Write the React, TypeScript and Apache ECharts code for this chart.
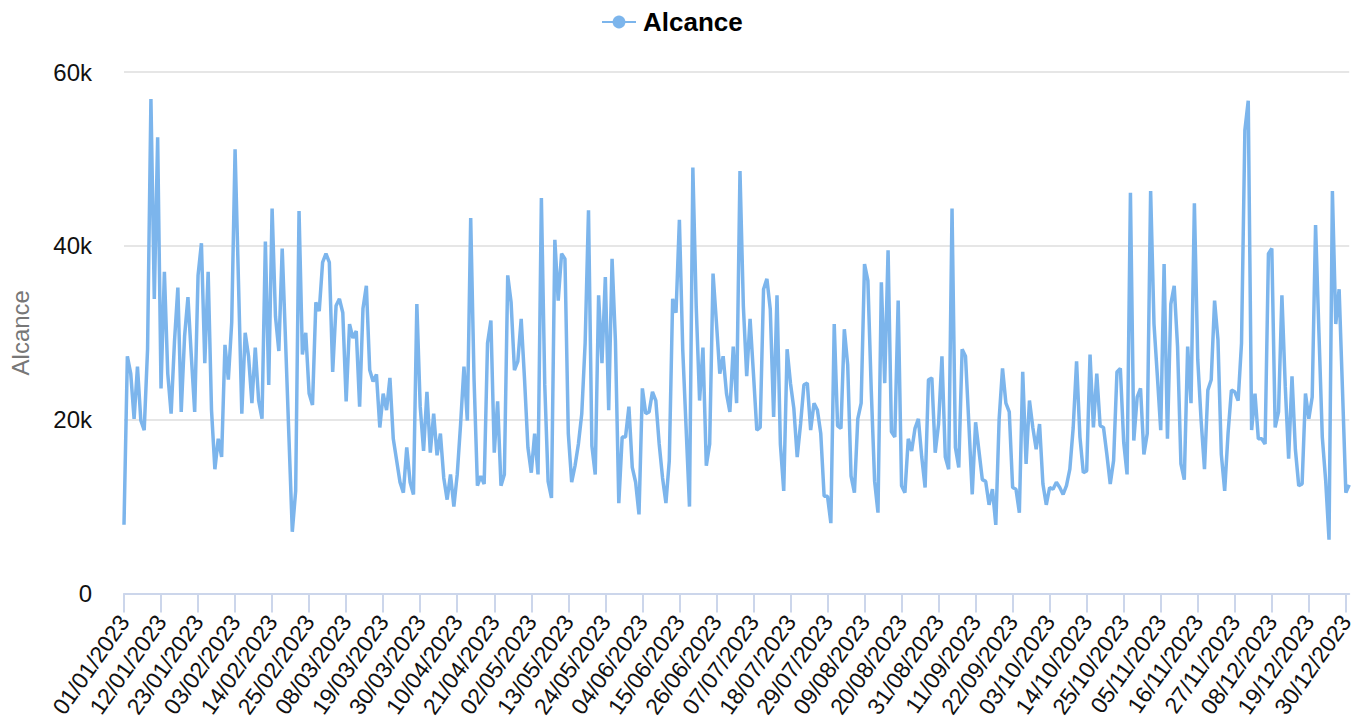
import React, { useEffect, useRef } from "react";
import * as echarts from "echarts";

// Daily "Alcance" values (thousands) per month, 2023
const jan = [7.9,27.3,25.3,20.1,26.1,19.9,18.8,28.1,56.9,33.9,52.5,23.6,37.0,25.3,20.7,29.0,35.2,20.9,29.6,34.1,27.3,20.9,36.6,40.3,26.5,37.0,21.1,14.3,17.8,15.7,28.6];
const feb = [24.6,31.2,51.1,36.0,20.7,30.0,27.3,21.9,28.3,22.2,20.1,40.5,24.0,44.3,31.9,27.9,39.7,29.0,18.0,7.1,11.8,44.0,27.5,30.0,23.0,21.7,33.5,32.5];
const mar = [38.1,39.1,38.1,25.5,33.1,33.9,32.3,22.1,31.0,29.4,30.2,21.5,32.8,35.4,25.7,24.4,25.2,19.1,23.0,21.1,24.8,17.8,15.3,12.8,11.6,16.8,12.8,11.4,33.3,21.5,16.4];
const apr = [23.2,16.2,20.7,15.9,18.4,13.3,10.8,13.7,10.0,13.7,19.5,26.1,19.9,43.2,24.6,12.4,13.5,12.6,28.8,31.4,16.2,22.1,12.4,13.7,36.6,33.5,25.7,26.7,31.6,24.6];
const may = [16.8,13.9,18.4,13.7,45.5,24.0,12.9,11.0,40.7,33.7,39.1,38.5,18.4,12.8,14.7,17.2,20.7,28.8,44.1,17.0,13.7,34.3,26.5,36.4,21.1,38.5,29.0,10.4,18.0,18.0,21.5];
const jun = [14.5,12.8,9.1,23.6,20.7,20.9,23.2,22.2,17.2,13.3,10.4,15.3,33.9,32.3,43.0,28.0,19.0,10.0,49.0,33.0,22.2,28.3,14.7,17.2,36.8,31.2,25.3,27.3,23.0,20.9];
const jul = [28.4,21.9,48.6,33.1,25.0,31.6,25.3,18.8,19.1,35.0,36.2,32.7,20.3,34.3,17.2,11.8,28.1,24.2,21.3,15.7,19.5,24.0,24.2,18.8,21.9,21.1,18.4,11.2,11.2,8.1,31.0];
const aug = [19.3,19.0,30.4,26.3,13.5,11.6,20.1,21.9,37.9,36.0,23.4,12.9,9.3,35.8,24.2,39.5,18.6,18.0,33.7,12.4,11.6,17.8,16.4,19.0,20.1,15.7,12.2,24.6,24.8,16.2,19.5];
const sep = [27.3,15.7,14.3,44.3,16.8,14.5,28.1,27.3,19.5,11.4,19.7,16.4,13.1,12.9,10.2,12.0,7.9,20.1,25.9,21.9,20.9,12.2,12.0,9.3,25.5,14.9,22.2,19.1,16.6,19.5];
const oct = [12.6,10.2,12.2,12.0,12.8,12.2,11.4,12.4,14.3,19.1,26.7,18.0,13.9,14.1,27.5,19.1,25.3,19.3,19.1,16.0,12.6,15.3,25.5,25.9,17.4,13.7,46.1,17.6,22.6,23.6,16.0];
const nov = [18.4,46.3,31.0,25.0,18.8,37.9,17.8,33.3,35.4,28.4,14.9,13.1,28.4,21.9,44.9,26.9,19.9,14.3,23.4,24.6,33.7,29.2,16.0,11.8,18.4,23.4,23.2,22.2,28.8,53.3];
const dec = [56.7,18.8,23.0,17.8,17.8,17.2,39.1,39.7,19.1,20.9,34.3,23.8,15.5,25.0,16.6,12.4,12.6,23.0,20.1,22.6,42.4,30.0,18.0,13.0,6.2,46.3,31.0,35.0,23.4,11.6,12.5];

const months = [jan, feb, mar, apr, may, jun, jul, aug, sep, oct, nov, dec];
const seriesName = "Alcance";
const yTicks = [0, 20000, 40000, 60000];

const pad = (n: number) => (n < 10 ? "0" + n : "" + n);
const categories: string[] = [];
months.forEach((m, mi) => m.forEach((_, di) => categories.push(`${pad(di + 1)}/${pad(mi + 1)}/2023`)));
const values: number[] = months.flat().map((v) => Math.round(v * 1000));

const FONT = "'Liberation Sans', Arial, sans-serif";

export default function App() {
  const ref = useRef<HTMLDivElement>(null);
  useEffect(() => {
    if (!ref.current) return;
    const chart = echarts.init(ref.current, undefined, { renderer: "svg" });
    chart.setOption({
      animation: false,
      textStyle: { fontFamily: FONT },
      legend: {
        top: 4,
        left: 596,
        itemWidth: 34,
        itemHeight: 16,
        itemGap: 20,
        textStyle: { fontSize: 26, fontWeight: "bold", color: "#000", fontFamily: FONT, padding: [0, 0, 0, 2] },
        data: [seriesName],
      },
      grid: { left: 124, right: 6, top: 72, bottom: 130.5, containLabel: false },
      xAxis: {
        type: "category",
        data: categories,
        boundaryGap: false,
        axisLine: { lineStyle: { color: "#ccd6eb", width: 2 } },
        axisTick: { interval: 10, length: 19, lineStyle: { color: "#ccd6eb", width: 2 } },
        axisLabel: {
          interval: 10,
          rotate: 55,
          margin: 24,
          fontSize: 23,
          color: "#111",
          fontFamily: FONT,
        },
        splitLine: { show: false },
      },
      yAxis: {
        type: "value",
        min: yTicks[0],
        max: yTicks[yTicks.length - 1],
        interval: yTicks[1] - yTicks[0],
        name: seriesName,
        nameLocation: "middle",
        nameGap: 92,
        nameTextStyle: { color: "#777", fontSize: 24, fontFamily: FONT },
        axisLine: { show: false },
        axisTick: { show: false },
        axisLabel: {
          margin: 32,
          fontSize: 24,
          color: "#111",
          fontFamily: FONT,
          formatter: (v: number) => (v === 0 ? "0" : v / 1000 + "k"),
        },
        splitLine: { lineStyle: { color: "#e6e6e6", width: 2 } },
      },
      series: [
        {
          name: seriesName,
          type: "line",
          data: values,
          symbol: "circle",
          symbolSize: 14,
          showSymbol: false,
          lineStyle: { color: "#7cb5ec", width: 3.5 },
          itemStyle: { color: "#7cb5ec" },
        },
      ],
    });
    return () => chart.dispose();
  }, []);
  return <div ref={ref} style={{ position: "absolute", left: 0, top: 0, width: 1357, height: 724 }} />;
}
